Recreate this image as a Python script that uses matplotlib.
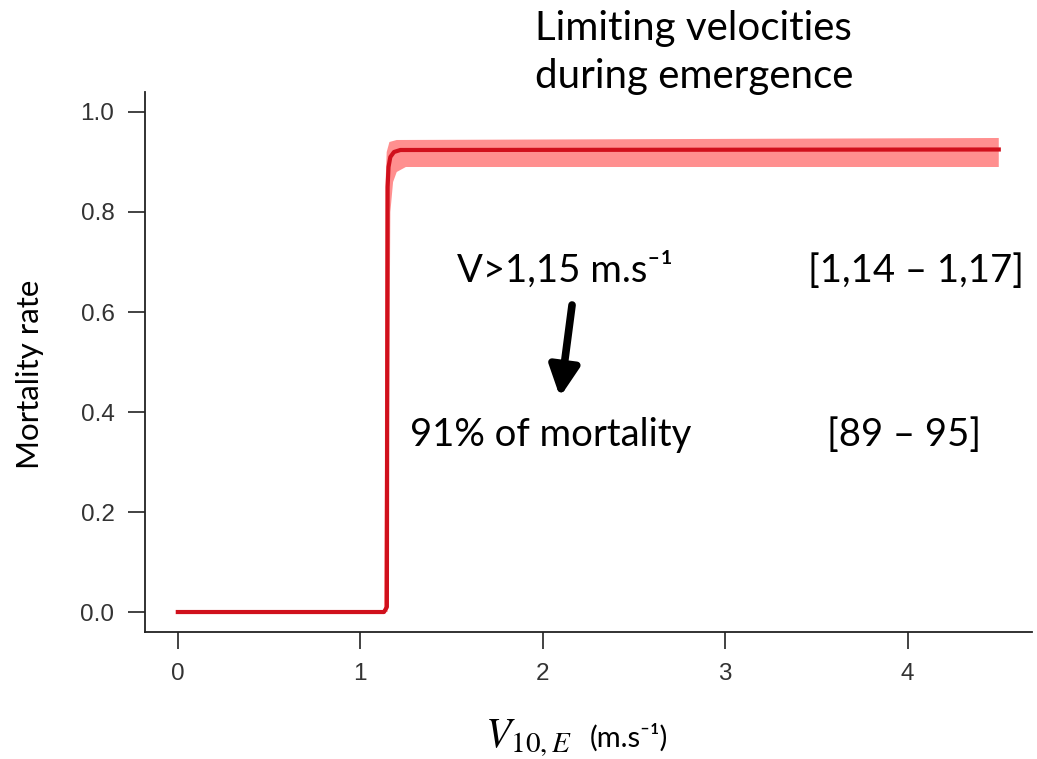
import matplotlib
matplotlib.use("Agg")
import matplotlib.pyplot as plt

# fitted mortality curve
curve_x = [0, 1.13, 1.146, 1.148, 1.150, 1.155, 1.165, 1.185, 1.22, 4.5]
curve_y = [0, 0, 0.01, 0.5, 0.85, 0.89, 0.91, 0.92, 0.924, 0.925]

# confidence band: upper/left edge and lower/right edge
band_up_x = [0, 1.13, 1.135, 1.138, 1.145, 1.16, 1.2, 4.5]
band_up_y = [0.004, 0.004, 0.3, 0.85, 0.92, 0.94, 0.944, 0.948]
band_lo_x = [0, 1.15, 1.158, 1.165, 1.18, 1.2, 1.25, 4.5]
band_lo_y = [0, 0, 0.4, 0.8, 0.86, 0.88, 0.89, 0.89]

x_ticks = [0, 1, 2, 3, 4]
y_ticks = [0.0, 0.2, 0.4, 0.6, 0.8, 1.0]

TXT = ["Lato", "DejaVu Sans"]

plt.rcParams.update({
    "mathtext.fontset": "stix",
    "axes.linewidth": 1.3,
    "font.family": ["Liberation Sans", "DejaVu Sans"],
    "xtick.labelsize": 17.5,
    "ytick.labelsize": 17.5,
})

fig = plt.figure(figsize=(10.37, 7.59), dpi=100)
ax = fig.add_axes([0.1398, 0.1673, 0.855, 0.7115])

poly_x = band_up_x + band_lo_x[::-1]
poly_y = band_up_y + band_lo_y[::-1]
ax.fill(poly_x, poly_y, color="#ff8f8f", linewidth=0, zorder=2)
ax.plot(curve_x, curve_y, color="#d0101c", linewidth=3, zorder=3)

ax.set_xlim(-0.18, 4.68)
ax.set_ylim(-0.04, 1.04)
ax.set_xticks(x_ticks)
ax.set_xticklabels([str(t) for t in x_ticks])
ax.set_yticks(y_ticks)
ax.set_yticklabels([f"{t:.1f}" for t in y_ticks])
for s in ["top", "right"]:
    ax.spines[s].set_visible(False)
for s in ["left", "bottom"]:
    ax.spines[s].set_color("#222222")
ax.tick_params(length=12, width=1.2, color="#222222",
               labelcolor="#333333", pad=10)

# labels
fig.text(30 / 1037, 1 - 374 / 759, "Mortality rate", rotation=90,
         ha="center", va="center", fontsize=22.5, family=TXT)
fig.text(485 / 1037, 1 - 747 / 759, r"$V_{10,E}$", ha="left",
         va="baseline", fontsize=30)
fig.text(590 / 1037, 1 - 747 / 759, "(m.s\u207b\u00b9)", ha="left",
         va="baseline", fontsize=21, family=TXT)

fig.text(535 / 1037, 1 - 40 / 759, "Limiting velocities",
         ha="left", va="baseline", fontsize=29, family=TXT)
fig.text(535 / 1037, 1 - 88 / 759, "during emergence",
         ha="left", va="baseline", fontsize=29, family=TXT)

# annotations
ax.text(1.53, 0.66, "V>1,15 m.s\u207b\u00b9", fontsize=27.5, family=TXT,
        va="baseline")
ax.text(3.456, 0.66, "[1,14 \u2013 1,17]", fontsize=27.5, family=TXT,
        va="baseline")
ax.text(1.273, 0.332, "91% of mortality", fontsize=27.5, family=TXT,
        va="baseline")
ax.text(3.56, 0.332, "[89 \u2013 95]", fontsize=27.5, family=TXT,
        va="baseline")
ax.annotate("", xy=(2.095, 0.43), xytext=(2.161, 0.614),
            arrowprops=dict(arrowstyle="-|>", color="black", lw=5.5,
                            mutation_scale=45, shrinkA=0, shrinkB=0))

fig.savefig("out.png", dpi=100)
